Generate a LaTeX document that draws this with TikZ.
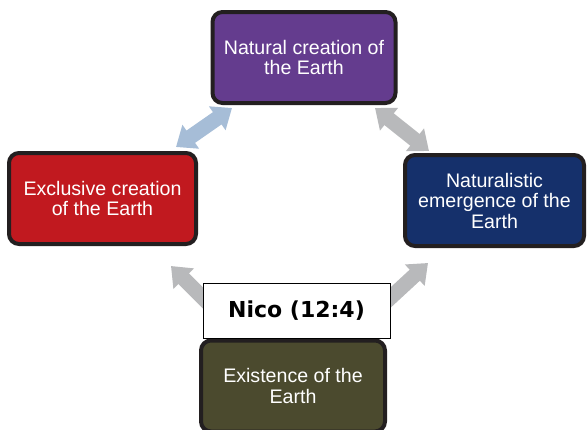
\documentclass[tikz,border=0pt]{standalone}
\usepackage{fontspec}
\setmainfont{Liberation Sans}
\newfontfamily\labelfont{DejaVu Sans}
\usetikzlibrary{arrows.meta}

\definecolor{boxpurple}{HTML}{643C8E}
\definecolor{boxred}{HTML}{C1191F}
\definecolor{boxnavy}{HTML}{15306B}
\definecolor{boxolive}{HTML}{4B4A2E}
\definecolor{boxedge}{HTML}{231F20}
\definecolor{linkblue}{HTML}{A6BDD7}
\definecolor{linkgray}{HTML}{B8B9BB}

\tikzset{
  stage/.style={draw=boxedge, line width=4pt, rounded corners=10pt,
    text=white, align=center, inner sep=2pt,
    minimum height=91pt,
    font=\fontsize{19.6}{20.5}\selectfont},
  link/.style={line width=15pt,
    {Triangle[width=28pt,length=18pt]}-{Triangle[width=28pt,length=18pt]}},
  tag/.style={draw=black, line width=0.9pt, fill=white,
    minimum width=187pt, minimum height=55pt, inner sep=0pt,
    font=\labelfont\bfseries\fontsize{22}{24}\selectfont}
}

\begin{document}
\begin{tikzpicture}[x=1pt,y=-1pt]
  \useasboundingbox (0,0) rectangle (587,429);

  % arrow end points
  \coordinate (tlA) at (176,147);
  \coordinate (tlB) at (232,108);
  \coordinate (trA) at (375,108);
  \coordinate (trB) at (429,151);
  \coordinate (blA) at (171,266);
  \coordinate (blB) at (240,335);
  \coordinate (brA) at (428,263);
  \coordinate (brB) at (350,335);

  % connectors between the stages
  \draw[link, linkblue] (tlA) -- (tlB);
  \draw[link, linkgray] (trA) -- (trB);
  \draw[link, linkgray] (blA) -- (blB);
  \draw[link, linkgray] (brA) -- (brB);

  % stages
  \node[stage, fill=boxpurple, minimum width=183pt] (top) at (304,57.5)
    {Natural creation of\\the Earth};
  \node[stage, fill=boxred, minimum width=187pt] (left) at (102.5,198.5)
    {Exclusive creation\\of the Earth};
  \node[stage, fill=boxnavy, minimum width=179pt] (right) at (494.5,200.5)
    {Naturalistic\\emergence of the\\Earth};
  \node[stage, fill=boxolive, minimum width=184pt] (bottom) at (293,386)
    {Existence of the\\Earth};

  % label
  \node[tag] (nico) at (296.5,310.5) {Nico (12:4)};
\end{tikzpicture}
\end{document}
